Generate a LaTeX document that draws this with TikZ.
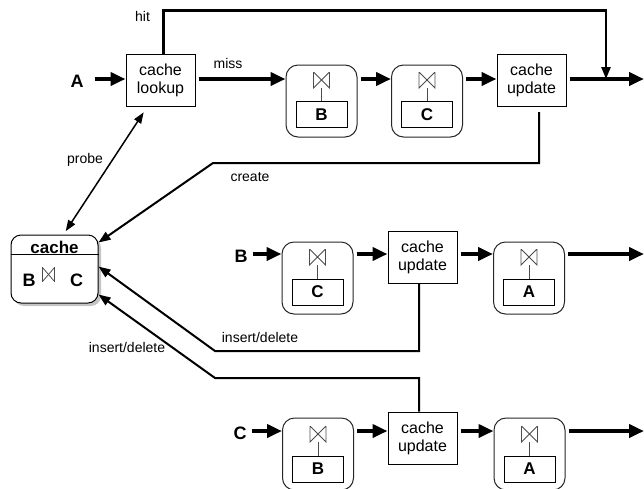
\documentclass[tikz,border=0pt]{standalone}
\usepackage{fontspec}
\setmainfont{Liberation Sans}
\usetikzlibrary{arrows.meta,shadows}

\tikzset{
    op/.style={draw, line width=1pt, minimum width=69pt, minimum height=52pt,
        inner sep=0pt, align=center, font=\fontsize{16}{18}\selectfont},
    joinbox/.style={draw=black!85, line width=1pt, rounded corners=12pt,
        minimum width=71pt, minimum height=72pt},
    tab/.style={draw, line width=1pt, minimum width=51pt, minimum height=26pt,
        inner sep=0pt, font=\fontsize{17}{19}\selectfont\bfseries},
    bowline/.style={draw=black!70, line width=0.8pt},
    tie/.style={minimum width=18pt, minimum height=16pt, inner sep=0pt, outer sep=0pt,
        path picture={
            \draw[bowline] ([xshift=1pt]path picture bounding box.south west)
                -- ([xshift=-1pt]path picture bounding box.north east)
                -- ([xshift=-1pt]path picture bounding box.south east)
                -- ([xshift=1pt]path picture bounding box.north west) -- cycle;
        }},
    letter/.style={inner sep=1pt, font=\fontsize{18}{20}\selectfont\bfseries},
    lbl/.style={inner sep=0pt, font=\fontsize{14}{16}\selectfont},
    flow/.style={line width=4pt, -{Triangle[length=15pt,width=13pt]}, shorten <=3pt},
    ctl/.style={line width=2pt, -{Triangle[length=12pt,width=9pt]}},
    probeline/.style={line width=1.5pt,
        {Triangle[length=11pt,width=8pt]}-{Triangle[length=11pt,width=8pt]}},
    cachebox/.style={draw, line width=1pt, rounded corners=10pt, fill=white,
        minimum width=87pt, minimum height=68pt,
        drop shadow={shadow xshift=3pt, shadow yshift=-3pt, fill=black!45}},
}

\begin{document}
\begin{tikzpicture}[x=1pt, y=-1pt]
    \useasboundingbox (0,0) rectangle (644,488);

    % query on A
    \coordinate (row1) at (0,79);
    \coordinate (outa) at (644,79);
    \coordinate (merge) at (606,79);
    \node[letter] (qa) at (77,81) {A};
    \node[op] (lookup) at (160.5,80) {cache\\lookup};
    \node[joinbox] (ja) at (321.5,101) {};
    \node[tie] (tiea) at (321.5,80) {};
    \node[tab] (taba) at (321.5,114.5) {B};
    \node[joinbox] (jb) at (427,101) {};
    \node[tie] (tieb) at (427,80) {};
    \node[tab] (tabb) at (427,114.5) {C};
    \node[op] (upa) at (531.5,80.5) {cache\\update};
    \draw[bowline] (tiea) -- (taba);
    \draw[bowline] (tieb) -- (tabb);
    \draw[flow, shorten <=10pt] (qa.east |- row1) -- (lookup.west |- row1);
    \draw[flow] (lookup.east |- row1) -- (ja.west |- row1);
    \draw[flow] (ja.east |- row1) -- (jb.west |- row1);
    \draw[flow] (jb.east |- row1) -- (upa.west |- row1);
    \draw[flow] (upa.east |- row1) -- (outa);
    \draw[ctl, line width=2.5pt] ([xshift=2.8pt]lookup.north) -- ++(0,-43) -| (merge);
    \node[lbl] (hitl) at (142.5,16) {hit};
    \node[lbl] (missl) at (228,63) {miss};

    % the cache
    \node[cachebox] (cache) at (54.5,269) {};
    \draw[line width=1pt] ([yshift=-20pt]cache.north west) -- ([yshift=-20pt]cache.north east);
    \node[inner sep=0pt, font=\fontsize{17}{19}\selectfont\bfseries] (cachet) at (54.5,247) {cache};
    \node[inner sep=0pt, font=\fontsize{18}{20}\selectfont\bfseries] (cacheb) at (29,280) {B};
    \node[tie, minimum width=14pt, minimum height=14pt] (cachetie) at (48.5,274.5) {};
    \node[inner sep=0pt, font=\fontsize{18}{20}\selectfont\bfseries] (cachec) at (76.5,280) {C};
    \draw[probeline, shorten <=4pt, shorten >=7pt] ([xshift=9pt]cache.north) -- ([xshift=-13pt]lookup.south);
    \node[lbl] (probel) at (85,160) {probe};
    \draw[ctl, shorten <=5pt] ([xshift=7.5pt]upa.south) |- (213,163) -- ([yshift=-8pt]cache.north east);
    \node[lbl] (createl) at (250,177) {create};

    % update on B
    \coordinate (row2) at (0,254);
    \coordinate (outb) at (644,254);
    \node[letter] (qb) at (241,256) {B};
    \node[joinbox] (jc) at (317.5,278) {};
    \node[tie] (tiec) at (317.5,257) {};
    \node[tab] (tabc) at (317.5,292) {C};
    \node[op] (upb) at (422.5,257.5) {cache\\update};
    \node[joinbox] (jd) at (529,278) {};
    \node[tie] (tied) at (529,257) {};
    \node[tab] (tabd) at (529,292) {A};
    \draw[bowline] (tiec) -- (tabc);
    \draw[bowline] (tied) -- (tabd);
    \draw[flow, shorten <=4pt] (qb.east |- row2) -- (jc.west |- row2);
    \draw[flow] (jc.east |- row2) -- (upb.west |- row2);
    \draw[flow] (upb.east |- row2) -- (jd.west |- row2);
    \draw[flow] (jd.east |- row2) -- (outb);
    \draw[ctl] ([xshift=-3.5pt]upb.south) |- (215,351) -- ([yshift=-32pt]cache.north east);
    \node[lbl] (insbl) at (260,337) {insert/delete};

    % update on C
    \coordinate (row3) at (0,431);
    \coordinate (outc) at (644,431);
    \node[letter] (qc) at (240,433) {C};
    \node[joinbox] (je) at (318,454) {};
    \node[tie] (tiee) at (318,434) {};
    \node[tab] (tabe) at (318,469) {B};
    \node[op] (upc) at (422.5,438) {cache\\update};
    \node[joinbox] (jf) at (529.5,454) {};
    \node[tie] (tief) at (529.5,434) {};
    \node[tab] (tabf) at (529.5,469) {A};
    \draw[bowline] (tiee) -- (tabe);
    \draw[bowline] (tief) -- (tabf);
    \draw[flow, shorten <=4pt] (qc.east |- row3) -- (je.west |- row3);
    \draw[flow] (je.east |- row3) -- (upc.west |- row3);
    \draw[flow] (upc.east |- row3) -- (jf.west |- row3);
    \draw[flow] (jf.east |- row3) -- (outc);
    \draw[ctl] ([xshift=-3.5pt]upc.north) |- (215,378) -- ([yshift=-60pt]cache.north east);
    \node[lbl] (inscl) at (127,347) {insert/delete};

\end{tikzpicture}
\end{document}
